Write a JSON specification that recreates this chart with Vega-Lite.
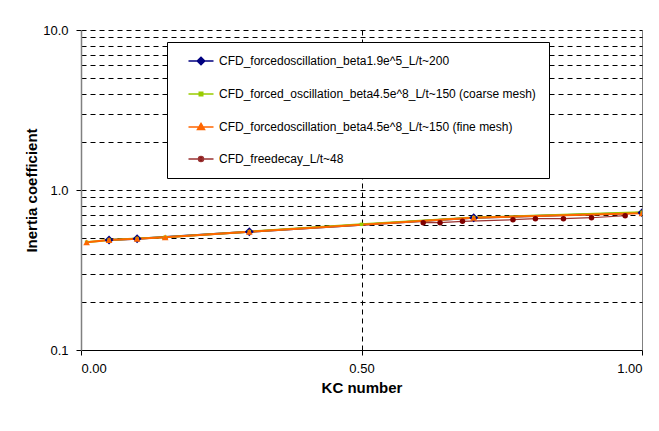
{
  "$schema": "https://vega.github.io/schema/vega-lite/v6.json",
  "autosize": "none",
  "width": 561,
  "height": 320,
  "padding": {"left": 81, "top": 30, "right": 17, "bottom": 81},
  "background": "white",
  "config": {
    "font": "Liberation Sans",
    "view": {"stroke": null},
    "axis": {"labelFont": "Liberation Sans", "titleFont": "Liberation Sans", "labelColor": "#000", "titleColor": "#000"}
  },
  "data": {
    "values": [
      {"series": "A", "kc": 0.05, "cm": 0.487},
      {"series": "A", "kc": 0.10, "cm": 0.496},
      {"series": "A", "kc": 0.30, "cm": 0.548},
      {"series": "A", "kc": 0.70, "cm": 0.671},
      {"series": "A", "kc": 1.00, "cm": 0.72},
      {"series": "B", "kc": 0.01, "cm": 0.472},
      {"series": "B", "kc": 0.05, "cm": 0.487},
      {"series": "B", "kc": 0.10, "cm": 0.497},
      {"series": "B", "kc": 0.15, "cm": 0.507},
      {"series": "B", "kc": 0.30, "cm": 0.549},
      {"series": "B", "kc": 0.50, "cm": 0.61},
      {"series": "B", "kc": 0.70, "cm": 0.672},
      {"series": "B", "kc": 1.00, "cm": 0.725},
      {"series": "C", "kc": 0.01, "cm": 0.471},
      {"series": "C", "kc": 0.05, "cm": 0.487},
      {"series": "C", "kc": 0.10, "cm": 0.496},
      {"series": "C", "kc": 0.15, "cm": 0.506},
      {"series": "C", "kc": 0.30, "cm": 0.548},
      {"series": "C", "kc": 0.70, "cm": 0.671},
      {"series": "C", "kc": 1.00, "cm": 0.715},
      {"series": "D", "kc": 0.61, "cm": 0.625},
      {"series": "D", "kc": 0.64, "cm": 0.625},
      {"series": "D", "kc": 0.68, "cm": 0.637},
      {"series": "D", "kc": 0.77, "cm": 0.652},
      {"series": "D", "kc": 0.81, "cm": 0.662},
      {"series": "D", "kc": 0.86, "cm": 0.662},
      {"series": "D", "kc": 0.91, "cm": 0.671},
      {"series": "D", "kc": 0.97, "cm": 0.691}
    ]
  },
  "encoding": {
    "x": {
      "field": "kc", "type": "quantitative",
      "scale": {"domain": [0, 1], "nice": false, "zero": false},
      "axis": {
        "title": "KC number", "titleFontSize": 15, "titleFontWeight": "bold", "titlePadding": 5,
        "values": [0, 0.5, 1], "format": ".2f", "labelFontSize": 13, "labelPadding": 7,
        "tickSize": 5, "tickColor": "#000", "domainColor": "#000",
        "grid": true,
        "gridColor": {"condition": {"test": "datum.value == 1", "value": "#808080"}, "value": "#000"},
        "gridDash": {"condition": {"test": "datum.value == 1", "value": []}, "value": [5, 4]},
        "gridOpacity": {"condition": {"test": "datum.value == 0", "value": 0}, "value": 1}
      }
    },
    "y": {
      "field": "cm", "type": "quantitative",
      "scale": {"type": "log", "domain": [0.1, 10], "nice": false},
      "axis": {
        "title": "Inertia coefficient", "titleFontSize": 15, "titleFontWeight": "bold", "titlePadding": 3,
        "values": [0.1, 0.2, 0.3, 0.4, 0.5, 0.6, 0.7, 0.8, 0.9, 1, 2, 3, 4, 5, 6, 7, 8, 9, 10],
        "labelExpr": "datum.value == 0.1 || datum.value == 1 || datum.value == 10 ? format(datum.value, '.1f') : ''",
        "labelFontSize": 13, "labelPadding": 8,
        "tickSize": 5, "tickColor": "#000",
        "tickOpacity": {"condition": {"test": "datum.value == 0.1 || datum.value == 1 || datum.value == 10", "value": 1}, "value": 0},
        "domainColor": "#808080", "domainWidth": 1.5,
        "grid": true, "gridColor": "#000", "gridDash": [5, 4],
        "gridOpacity": {"condition": {"test": "datum.value == 0.1", "value": 0}, "value": 1}
      }
    },
    "color": {"field": "series", "type": "nominal", "scale": {"domain": ["A", "B", "C", "D"], "range": ["#000080", "#99CC00", "#FF6600", "#993333"]},
      "legend": {
        "orient": "none", "legendX": 86, "legendY": 12, "title": null,
        "padding": 13, "rowPadding": 20, "symbolOffset": 15, "labelOffset": 12,
        "symbolSize": 100, "labelFontSize": 12, "labelFont": "Liberation Sans", "labelColor": "#000",
        "strokeColor": "#000", "fillColor": "#fff", "labelLimit": 400,
        "labelExpr": "datum.value == 'A' ? 'CFD_forcedoscillation_beta1.9e^5_L/t~200' : datum.value == 'B' ? 'CFD_forced_oscillation_beta4.5e^8_L/t~150 (coarse mesh)' : datum.value == 'C' ? 'CFD_forcedoscillation_beta4.5e^8_L/t~150 (fine mesh)' : 'CFD_freedecay_L/t~48'",
        "encode": {
          "symbols": {
            "update": {
              "shape": {"signal": "datum.value == 'A' ? 'M-2.5,0H2.5M0,-0.75L0.75,0L0,0.75L-0.75,0Z' : datum.value == 'B' ? 'M-2.5,0H2.5M-0.35,-0.35H0.35V0.35H-0.35Z' : datum.value == 'C' ? 'M-2.5,0H2.5M0,-0.7L0.7,0.5L-0.7,0.5Z' : 'M-2.5,0H2.5M0.5,0A0.5,0.5,0,1,1,-0.5,0A0.5,0.5,0,1,1,0.5,0Z'"},
              "fill": {"signal": "datum.value == 'A' ? '#000080' : datum.value == 'B' ? '#99CC00' : datum.value == 'C' ? '#FF6600' : '#800000'"},
              "strokeWidth": {"value": 1.5}
            }
          }
        }
      }
    }
  },
  "layer": [
    {
      "transform": [{"filter": "datum.series != 'D'"}],
      "mark": {"type": "line", "clip": true, "strokeWidth": 2},
      "encoding": {"order": {"field": "kc"}}
    },
    {
      "transform": [{"filter": "datum.series == 'D'"}],
      "mark": {"type": "line", "clip": true, "strokeWidth": 1.2},
      "encoding": {"order": {"field": "kc"}}
    },
    {
      "transform": [{"filter": "datum.series == 'A'"}],
      "mark": {"type": "point", "shape": "diamond", "filled": true, "opacity": 1, "size": 80, "clip": true},
      "encoding": {"color": {"value": "#000080"}}
    },
    {
      "transform": [{"filter": "datum.series == 'B'"}],
      "mark": {"type": "point", "shape": "square", "filled": true, "opacity": 1, "size": 12, "clip": true},
      "encoding": {"color": {"value": "#99CC00"}}
    },
    {
      "transform": [{"filter": "datum.series == 'C'"}],
      "mark": {"type": "point", "shape": "triangle-up", "filled": true, "opacity": 1, "size": 45, "clip": true},
      "encoding": {"color": {"value": "#FF6600"}}
    },
    {
      "transform": [{"filter": "datum.series == 'D'"}],
      "mark": {"type": "point", "shape": "circle", "filled": true, "opacity": 1, "size": 30, "clip": true},
      "encoding": {"color": {"value": "#800000"}}
    }
  ]
}
